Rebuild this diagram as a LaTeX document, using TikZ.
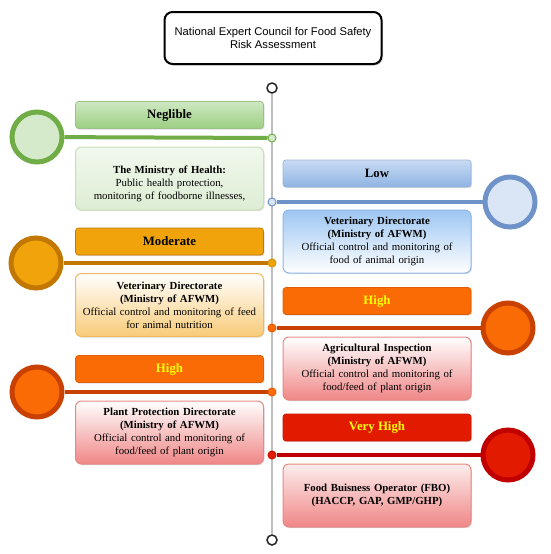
\documentclass[tikz,border=0pt]{standalone}
\usepackage{fontspec}
\setmainfont{Liberation Serif}
\newfontfamily\arialf{Liberation Sans}
\usetikzlibrary{shadows}
\pgfdeclarelayer{bg}
\pgfsetlayers{bg,main}
\definecolor{gStroke}{HTML}{70AD47}
\definecolor{gFill}{HTML}{D5EACB}
\definecolor{gTop}{HTML}{CFE8C2}
\definecolor{gBot}{HTML}{9CCF82}
\definecolor{gDesc}{HTML}{DDEDD3}
\definecolor{bStroke}{HTML}{6F93C8}
\definecolor{bFill}{HTML}{DAE6F6}
\definecolor{bTop}{HTML}{C9DBF3}
\definecolor{bBot}{HTML}{8EB4E3}
\definecolor{bDesc}{HTML}{9DC6F2}
\definecolor{oStroke}{HTML}{C27800}
\definecolor{oFill}{HTML}{F0A30A}
\definecolor{oDesc}{HTML}{F8CB78}
\definecolor{hStroke}{HTML}{C84100}
\definecolor{hFill}{HTML}{FA6A05}
\definecolor{pDesc}{HTML}{F08686}
\definecolor{pBorder}{HTML}{E28A84}
\definecolor{rStroke}{HTML}{C00000}
\definecolor{rFill}{HTML}{E21A00}
\definecolor{ylw}{HTML}{FFFF00}
\tikzset{
  lab/.style={rounded corners=3pt, minimum width=188pt, minimum height=27pt, inner sep=0pt,
    font=\bfseries\fontsize{12.8}{14}\selectfont, draw, line width=0.7pt,
    drop shadow={shadow xshift=1pt, shadow yshift=-1.2pt, opacity=0.25}},
  desctext/.style={text width=186pt, inner sep=0pt, align=center, font=\fontsize{10.8}{13}\selectfont},
  desc/.style={desctext, rounded corners=6pt, minimum width=188pt, minimum height=63pt, draw, line width=1pt,
    drop shadow={shadow xshift=1pt, shadow yshift=-1.2pt, opacity=0.25}},
  big/.style={circle, minimum size=50pt, inner sep=0pt, line width=5pt, draw},
  dot/.style={circle, minimum size=8pt, inner sep=0pt, line width=1pt, draw},
  conn/.style={line width=4pt},
  endc/.style={circle, minimum size=10pt, inner sep=0pt, line width=1.5pt, draw=black!85, fill=white},
}
\begin{document}
\begin{tikzpicture}[x=1pt,y=-1pt]
\useasboundingbox (0,0) rectangle (550,554);
% title
\node[draw, line width=2pt, rounded corners=8pt, minimum width=217pt, minimum height=52pt, fill=white,
  align=center, font=\arialf\fontsize{11.2}{13.5}\selectfont,
  drop shadow={shadow xshift=1.5pt, shadow yshift=-1.5pt, opacity=0.35}] (title) at (273,38)
  {National Expert Council for Food Safety\\Risk Assessment};
% timeline ends
\node[endc] (top) at (272,88) {};
\node[endc] (bot) at (272,540) {};

% Neglible
\node[lab, draw=gBot!85!black!80, top color=gTop, bottom color=gBot] (negl) at (169.5,115) {Neglible};
\node[desc, draw=gDesc!80!gStroke, top color=white!60!gDesc, bottom color=gDesc] (negdesc) at (169.5,178.5) {};
\node[desctext] (negtxt) at ([yshift=-5pt]negdesc.center)
  {\textbf{The Ministry of Health:}\\Public health protection,\\monitoring of foodborne illnesses,};
\node[big, draw=gStroke, fill=gFill] (negc) at (37,137) {};
\node[dot, draw=gStroke, fill=gFill] (negd) at (272,138) {};

% Low
\node[lab, draw=bBot!90!black!80, top color=bTop, bottom color=bBot] (lowl) at (377,173.5) {Low};
\node[desc, draw=bDesc!70!bStroke, top color=bDesc, bottom color=white] (lowdesc) at (377,241.5)
  {\textbf{Veterinary Directorate}\\\textbf{(Ministry of AFWM)}\\Official control and monitoring of\\food of animal origin};
\node[big, draw=bStroke, fill=bFill] (lowc) at (510,202) {};
\node[dot, draw=bStroke, fill=bFill] (lowd) at (272,202) {};

% Moderate
\node[lab, draw=oStroke, fill=oFill] (modl) at (169.5,241.5) {Moderate};
\node[desc, draw=oDesc!80!oStroke, top color=white, bottom color=oDesc] (moddesc) at (169.5,305)
  {\textbf{Veterinary Directorate}\\\textbf{(Ministry of AFWM)}\\Official control and monitoring of feed\\for animal nutrition};
\node[big, draw=oStroke, fill=oFill] (modc) at (36,263) {};
\node[dot, draw=oFill!90!black, fill=oFill] (modd) at (272,263) {};

% High right
\node[lab, draw=hFill!90!black, fill=hFill, text=ylw] (hrl) at (377,301) {High};
\node[desc, draw=pBorder, top color=white, bottom color=pDesc] (hrdesc) at (377,368.5)
  {\textbf{Agricultural Inspection}\\\textbf{(Ministry of AFWM)}\\Official control and monitoring of\\food/feed of plant origin};
\node[big, draw=hStroke, fill=hFill] (hrc) at (508,328) {};
\node[dot, draw=hFill!90!black, fill=hFill] (hrd) at (272,328) {};

% High left
\node[lab, draw=hFill!90!black, fill=hFill, text=ylw] (hll) at (169.5,369) {High};
\node[desc, draw=pBorder, top color=white, bottom color=pDesc] (hldesc) at (169.5,432.5)
  {\textbf{Plant Protection Directorate}\\\textbf{(Ministry of AFWM)}\\Official control and monitoring of\\food/feed of plant origin};
\node[big, draw=hStroke, fill=hFill] (hlc) at (37,392) {};
\node[dot, draw=hFill!90!black, fill=hFill] (hld) at (272,392) {};

% Very High
\node[lab, draw=rFill!90!black, fill=rFill, text=ylw] (vhl) at (377,427.5) {Very High};
\node[desc, draw=pBorder, top color=white!85!pDesc, bottom color=pDesc] (vhdesc) at (377,495.5)
  {\textbf{Food Buisness Operator (FBO)}\\\textbf{(HACCP, GAP, GMP/GHP)}};
\node[big, draw=rStroke, fill=rFill] (vhc) at (508,455) {};
\node[dot, draw=rFill!90!black, fill=rFill] (vhd) at (272,455) {};

\begin{pgfonlayer}{bg}
  \draw[line width=2pt, black!25] (top) -- (bot);
  \draw[conn, gStroke] (negc) -- (negd);
  \draw[conn, bStroke] (lowc) -- (lowd);
  \draw[conn, oStroke] (modc) -- (modd);
  \draw[conn, hStroke] (hrc) -- (hrd);
  \draw[conn, hStroke] (hlc) -- (hld);
  \draw[conn, rStroke] (vhc) -- (vhd);
\end{pgfonlayer}
\end{tikzpicture}
\end{document}
